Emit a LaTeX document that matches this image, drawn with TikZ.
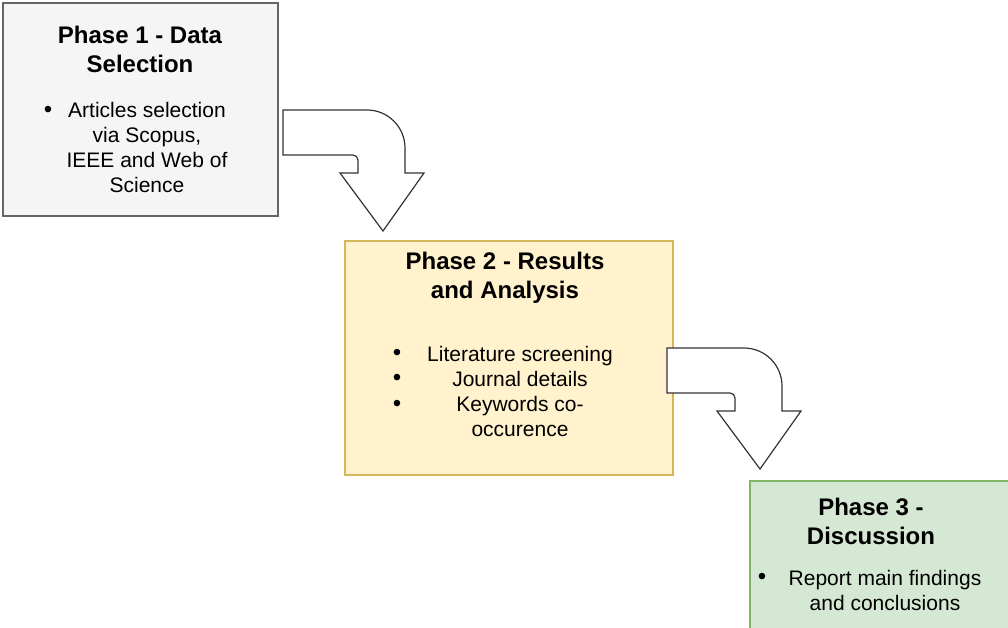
\documentclass[tikz,border=0pt]{standalone}
\usepackage{fontspec}
\setmainfont{Liberation Sans}
\usetikzlibrary{positioning}
\definecolor{greyfill}{HTML}{F5F5F5}
\definecolor{greyline}{HTML}{666666}
\definecolor{yellowfill}{HTML}{FFF2CC}
\definecolor{yellowline}{HTML}{D6B656}
\definecolor{greenfill}{HTML}{D5E8D4}
\definecolor{greenline}{HTML}{82B366}
\tikzset{
  phasebox/.style={rectangle, line width=1.3pt, inner sep=0pt},
  phasetitle/.style={align=center, inner sep=0pt, font=\fontsize{24}{29}\selectfont\bfseries},
  phasebody/.style={align=center, inner sep=0pt, font=\fontsize{21}{25}\selectfont},
  bulletmark/.style={inner sep=0pt, font=\fontsize{24}{24}\selectfont},
  arrowline/.style={draw=black!80, fill=white, line width=1.2pt, line join=miter},
  pics/bentarrow/.style={code={
    \draw[arrowline] (0,0) [rounded corners=38pt] -- (#1,0) [sharp corners] -- (#1,63)
      -- ({#1+19},63) -- ({#1-22},121) -- ({#1-65},63) -- ({#1-47},63)
      [rounded corners=5pt] -- ({#1-47},45) [sharp corners] -- (0,45) -- cycle;
  }}
}
\begin{document}
\begin{tikzpicture}[x=1pt, y=-1pt]
  \useasboundingbox (0,0) rectangle (1008,627);
  \clip (0,0) rectangle (1008,627);

  % phase 1
  \node[phasebox, draw=greyline, fill=greyfill, minimum width=275pt, minimum height=213pt] (p1) at (140.5,109.5) {};
  \node[phasetitle] (t1) at (140,49) {Phase 1 - Data\\Selection};
  \node[bulletmark] (b1) at (48,112) {\textbullet};
  \node[phasebody] (d1) at (147,147.5) {Articles selection\\via Scopus,\\IEEE and Web of\\Science};

  % phase 2
  \node[phasebox, draw=yellowline, fill=yellowfill, minimum width=328pt, minimum height=234pt] (p2) at (509,358) {};
  \node[phasetitle] (t2) at (505,278) {Phase 2 - Results\\and Analysis};
  \node[bulletmark] (b2) at (397,355) {\textbullet};
  \node[bulletmark] (b3) at (397,380) {\textbullet};
  \node[bulletmark] (b4) at (397,406) {\textbullet};
  \node[phasebody] (d2) at (520,391.5) {Literature screening\\Journal details\\Keywords co-\\occurence};

  % phase 3
  \node[phasebox, draw=greenline, fill=greenfill, minimum width=265pt, minimum height=160pt] (p3) at (882.5,561) {};
  \node[phasetitle] (t3) at (871,521) {Phase 3 -\\Discussion};
  \node[bulletmark] (b5) at (762,579) {\textbullet};
  \node[phasebody] (d3) at (885,590.5) {Report main findings\\and conclusions};

  % arrows
  \coordinate (a1) at (283,110);
  \coordinate (a2) at (667,348);
  \pic at (a1) {bentarrow=122};
  \pic at (a2) {bentarrow=115};
\end{tikzpicture}
\end{document}
